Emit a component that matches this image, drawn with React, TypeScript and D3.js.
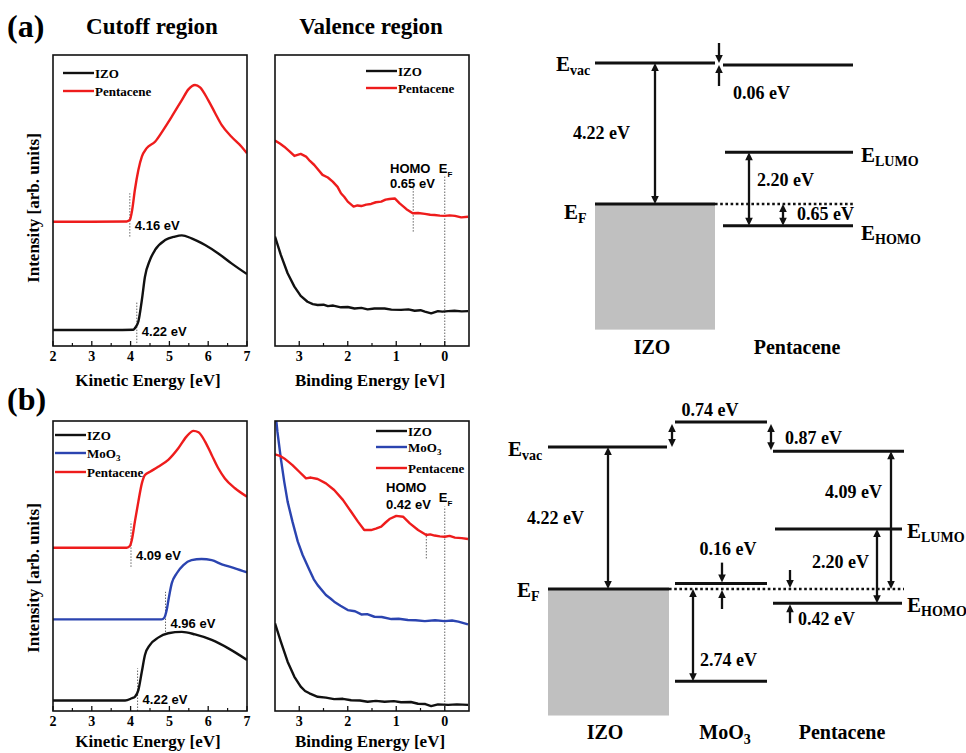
import React from 'react';
import * as d3 from 'd3';

type Pt = [number, number];

const SERIF = '"Liberation Serif", "Times New Roman", serif';
const SANS = '"Liberation Sans", Arial, sans-serif';
const RED = '#ee1c1c';
const BLUE = '#2b44b0';

// ---- (a) secondary electron cutoff, kinetic energy [eV] vs intensity (arb.)
const cutA_izo: Pt[] = [
  [2.0, 5.5], [3.5, 5.5], [4.07, 5.6], [4.11, 6.1], [4.2, 8.4], [4.29, 15.8], [4.37, 23.8],
  [4.5, 29.6], [4.63, 33.0], [4.89, 36.4], [5.14, 37.6], [5.32, 38.0], [5.57, 37.0],
  [5.92, 34.7], [6.26, 31.8], [6.6, 28.4], [7.0, 24.7],
];
const cutA_pen: Pt[] = [
  [2.0, 42.7], [3.0, 42.7], [3.9, 42.8], [3.98, 43.3], [4.04, 46.7], [4.11, 53.6], [4.2, 60.5],
  [4.29, 65.1], [4.41, 67.9], [4.63, 70.2], [4.84, 74.2], [5.06, 78.8], [5.32, 84.5],
  [5.49, 88.2], [5.66, 89.7], [5.79, 88.9], [6.0, 84.5], [6.18, 80.0], [6.35, 75.9],
  [6.6, 71.9], [6.86, 68.5], [7.0, 66.2],
];
// ---- (a) valence region, binding energy [eV]
const valA_izo: Pt[] = [
  [3.5, 37.6], [3.38, 31.3], [3.24, 25.0], [3.1, 20.4], [2.97, 17.2], [2.83, 15.2], [2.72, 14.4],
  [2.62, 14.1], [2.5, 14.2], [2.41, 13.7], [2.3, 13.9], [2.14, 13.3], [2.0, 13.4], [1.86, 12.9],
  [1.72, 13.1], [1.59, 12.6], [1.45, 12.9], [1.24, 12.9], [1.1, 12.5], [0.9, 12.4], [0.75, 12.6],
  [0.62, 12.1], [0.5, 12.3], [0.41, 11.8], [0.28, 11.2], [0.14, 12.0], [0.05, 11.8],
  [-0.07, 12.0], [-0.2, 12.1], [-0.35, 11.9], [-0.48, 12.0],
];
const valA_pen: Pt[] = [
  [3.5, 70.6], [3.4, 69.6], [3.31, 68.5], [3.2, 66.9], [3.1, 65.3], [2.97, 66.0], [2.86, 65.1],
  [2.78, 63.6], [2.69, 62.2], [2.6, 60.4], [2.52, 58.8], [2.41, 57.9], [2.31, 56.5],
  [2.21, 54.7], [2.14, 52.5], [2.07, 51.2], [2.0, 49.6], [1.88, 47.9], [1.8, 48.3], [1.72, 48.1],
  [1.62, 48.6], [1.52, 48.8], [1.42, 49.4], [1.31, 49.6], [1.22, 50.3], [1.14, 50.5],
  [1.03, 50.7], [0.93, 49.0], [0.85, 47.9], [0.79, 47.0], [0.66, 45.6], [0.55, 45.7],
  [0.41, 45.4], [0.3, 45.1], [0.21, 45.0], [0.1, 44.8], [0.0, 44.7], [-0.1, 44.9],
  [-0.21, 44.7], [-0.34, 44.2], [-0.48, 44.4],
];
const cutA_markers = [
  { e: 3.98, lo: 37.6, hi: 52.5, label: '4.16 eV' },
  { e: 4.16, lo: 1.0, hi: 15.4, label: '4.22 eV' },
];
const valA_homo = { e: 0.65, lo: 39.3, hi: 54.2, label: '0.65 eV' };
const valA_ef = { e: 0, lo: 0, hi: 58.8 };

// ---- (b) cutoff
const cutB_izo: Pt[] = [
  [2.0, 3.6], [3.86, 3.6], [4.03, 4.4], [4.11, 4.9], [4.2, 7.2], [4.29, 13.6], [4.37, 19.3],
  [4.5, 22.8], [4.71, 25.3], [4.97, 26.8], [5.32, 27.3], [5.66, 26.4], [6.09, 24.5],
  [6.52, 21.6], [7.0, 17.6],
];
const cutB_moo3: Pt[] = [
  [2.0, 31.6], [4.8, 31.6], [4.87, 32.2], [4.93, 34.8], [4.99, 39.4], [5.06, 44.0], [5.19, 47.5],
  [5.36, 50.3], [5.57, 52.0], [5.83, 52.4], [6.09, 52.0], [6.35, 50.6], [6.69, 49.2], [7.0, 47.8],
];
const cutB_pen: Pt[] = [
  [2.0, 56.3], [3.9, 56.3], [3.98, 56.9], [4.04, 59.5], [4.11, 65.3], [4.2, 72.2], [4.29, 78.5],
  [4.37, 81.4], [4.5, 82.5], [4.71, 84.2], [4.97, 86.6], [5.23, 90.6], [5.44, 94.6],
  [5.62, 96.6], [5.75, 96.1], [5.92, 92.9], [6.09, 88.3], [6.26, 83.7], [6.43, 80.2],
  [6.69, 76.8], [7.0, 73.9],
];
// ---- (b) valence
const valB_izo: Pt[] = [
  [3.5, 30.2], [3.38, 23.9], [3.24, 17.0], [3.1, 11.8], [2.97, 8.4], [2.88, 6.9], [2.79, 6.1],
  [2.62, 4.9], [2.45, 4.6], [2.28, 4.1], [2.1, 4.2], [1.93, 3.7], [1.75, 3.6], [1.59, 3.2],
  [1.42, 3.5], [1.24, 3.2], [1.05, 3.4], [0.9, 3.0], [0.7, 3.1], [0.55, 2.5], [0.4, 2.4],
  [0.28, 1.7], [0.14, 2.3], [-0.07, 2.1], [-0.25, 2.3], [-0.48, 2.1],
];
const valB_moo3: Pt[] = [
  [3.5, 104.4], [3.45, 96.3], [3.38, 87.1], [3.31, 79.1], [3.24, 72.2], [3.14, 65.3],
  [3.03, 58.4], [2.93, 53.8], [2.79, 48.6], [2.7, 45.4], [2.62, 43.4], [2.45, 40.0],
  [2.35, 38.7], [2.28, 37.7], [2.15, 36.3], [2.0, 34.8], [1.85, 34.4], [1.72, 33.3],
  [1.6, 33.4], [1.45, 32.5], [1.3, 32.4], [1.1, 31.7], [0.95, 31.8], [0.76, 31.4],
  [0.6, 31.3], [0.41, 31.0], [0.2, 31.3], [0.0, 31.0], [-0.15, 31.2], [-0.28, 30.8],
  [-0.48, 29.9],
];
const valB_pen: Pt[] = [
  [3.5, 88.5], [3.4, 88.0], [3.31, 87.1], [3.22, 85.9], [3.14, 84.8], [3.0, 82.5],
  [2.86, 80.2], [2.76, 80.5], [2.62, 80.0], [2.45, 78.5], [2.28, 76.2], [2.1, 72.8],
  [1.93, 68.7], [1.79, 65.3], [1.66, 62.4], [1.52, 62.4], [1.42, 62.9], [1.31, 63.6],
  [1.22, 65.0], [1.14, 66.2], [1.0, 67.3], [0.86, 67.0], [0.72, 64.7], [0.55, 62.4],
  [0.38, 60.7], [0.3, 60.9], [0.21, 60.5], [0.1, 60.2], [0.0, 60.1], [-0.1, 60.4],
  [-0.21, 59.8], [-0.35, 59.6], [-0.48, 59.3],
];
const cutB_markers = [
  { e: 4.01, lo: 49.7, hi: 65.3, label: '4.09 eV' },
  { e: 4.9, lo: 26.2, hi: 41.1, label: '4.96 eV' },
  { e: 4.18, lo: 0, hi: 14.7, label: '4.22 eV' },
];
const valB_homo = { e: 0.38, lo: 52.6, hi: 61.3, label: '0.42 eV' };
const valB_ef = { e: 0, lo: 0, hi: 70.5 };

const kineticTicks = [2, 3, 4, 5, 6, 7];
const kineticMinor = [2.5, 3.5, 4.5, 5.5, 6.5];
const bindingTicks = [3, 2, 1, 0];
const bindingMinor = [2.5, 1.5, 0.5];

// ---- energy level diagrams (eV, relative to E_F)
const A_IZO_VAC = 4.22;
const A_PEN_VAC = 4.16;
const A_PEN_LUMO = 1.55;
const A_PEN_HOMO = -0.65;
const B_IZO_VAC = 4.22;
const B_MOO3_VAC = 4.96;
const B_MOO3_UP = 0.16;
const B_MOO3_LOW = -2.74;
const B_PEN_VAC = 4.09;
const B_PEN_LUMO = 1.78;
const B_PEN_HOMO = -0.42;
const IZO_BAND_BOTTOM = -3.76;

type Series = { name: string; sub?: string; color: string; data: Pt[] };

function Panel(props: {
  x: number; y: number; w: number; h: number;
  domain: [number, number]; majors: number[]; minors: number[];
  series: Series[]; curve: d3.CurveFactory;
  legendX: number; legendYs: number[];
  xTitle: string; titleY: number;
  children?: (sx: d3.ScaleLinear<number, number>, sy: d3.ScaleLinear<number, number>) => React.ReactNode;
}) {
  const { x, y, w, h, domain, majors, minors, series, curve, legendX, legendYs, xTitle, titleY } = props;
  const sx = d3.scaleLinear().domain(domain).range([x, x + w]);
  const sy = d3.scaleLinear().domain([0, 100]).range([y + h, y]);
  const line = d3.line<Pt>().x(d => sx(d[0])).y(d => sy(d[1])).curve(curve);
  const clipId = `clip-${x}-${y}`;
  return (
    <g>
      <defs>
        <clipPath id={clipId}><rect x={x} y={y} width={w} height={h} /></clipPath>
      </defs>
      {props.children && props.children(sx, sy)}
      <g clipPath={`url(#${clipId})`}>
        {series.map(s => (
          <path key={s.name} d={line(s.data) || ''} fill="none" stroke={s.color}
            strokeWidth={2.4} strokeLinejoin="round" />
        ))}
      </g>
      <rect x={x} y={y} width={w} height={h} fill="none" stroke="#111" strokeWidth={1.6} />
      {majors.map(t => (
        <g key={'M' + t}>
          <line x1={sx(t)} x2={sx(t)} y1={y + h} y2={y + h - 5} stroke="#111" strokeWidth={1.3} />
          <text x={sx(t)} y={y + h + 15} textAnchor="middle" fontFamily={SERIF} fontWeight="bold" fontSize={14}>{t}</text>
        </g>
      ))}
      {minors.map(t => (
        <line key={'m' + t} x1={sx(t)} x2={sx(t)} y1={y + h} y2={y + h - 3} stroke="#111" strokeWidth={1.2} />
      ))}
      {series.map((s, i) => (
        <g key={'lg' + s.name}>
          <line x1={legendX} x2={legendX + 31} y1={legendYs[i]} y2={legendYs[i]} stroke={s.color} strokeWidth={2.4} />
          <text x={legendX + 32} y={legendYs[i] + 4.5} fontFamily={SERIF} fontWeight="bold" fontSize={13}>
            {s.name}
            {s.sub && <tspan dy={3} fontSize={9}>{s.sub}</tspan>}
          </text>
        </g>
      ))}
      <text x={x + w / 2 - 2} y={titleY} textAnchor="middle" fontFamily={SERIF} fontWeight="bold" fontSize={17}>{xTitle}</text>
    </g>
  );
}

function dotted(x: number, y1: number, y2: number, key: string) {
  return <line key={key} x1={x} x2={x} y1={y1} y2={y2} stroke="#666" strokeWidth={1} strokeDasharray="1.5,1.5" />;
}

function cutoffMarkers(markers: { e: number; lo: number; hi: number; label: string }[]) {
  return (sx: d3.ScaleLinear<number, number>, sy: d3.ScaleLinear<number, number>) => (
    <g>
      {markers.map(m => (
        <g key={m.label + m.e}>
          {dotted(sx(m.e), sy(m.lo), sy(m.hi), 'd')}
          <text x={sx(m.e) + 5} y={sy(m.lo) - 7} fontFamily={SANS} fontWeight="bold" fontSize={13}>{m.label}</text>
        </g>
      ))}
    </g>
  );
}

function valenceMarkers(homo: { e: number; lo: number; hi: number; label: string }, ef: { e: number; lo: number; hi: number },
  lblX: number, homoBase: number, valBase: number, efBase: number) {
  return (sx: d3.ScaleLinear<number, number>, sy: d3.ScaleLinear<number, number>) => (
    <g fontFamily={SANS} fontWeight="bold" fontSize={13}>
      {dotted(sx(homo.e), sy(homo.lo), sy(homo.hi), 'h')}
      {dotted(sx(ef.e), sy(ef.lo), sy(ef.hi), 'f')}
      <text x={lblX} y={homoBase}>HOMO</text>
      <text x={lblX} y={valBase}>{homo.label}</text>
      <text x={sx(ef.e) - 6} y={efBase}>E<tspan dy={4} fontSize={8}>F</tspan></text>
    </g>
  );
}

function Arrow({ x, from, to, both }: { x: number; from: number; to: number; both?: boolean }) {
  const dir = Math.sign(to - from);
  const L = 8, hw = 3.8;
  const head = (tip: number, d: number) =>
    `M${x},${tip} L${x - hw},${tip - d * L} L${x + hw},${tip - d * L} Z`;
  const s = both ? from + dir * (L - 1) : from;
  const e = to - dir * (L - 1);
  return (
    <g>
      <line x1={x} x2={x} y1={s} y2={e} stroke="#111" strokeWidth={2.3} />
      <path d={head(to, dir)} fill="#111" />
      {both && <path d={head(from, -dir)} fill="#111" />}
    </g>
  );
}

function Level({ x1, x2, y, dashed }: { x1: number; x2: number; y: number; dashed?: boolean }) {
  return <line x1={x1} x2={x2} y1={y} y2={y} stroke="#111" strokeWidth={dashed ? 2.4 : 3}
    strokeDasharray={dashed ? '2.6,2.6' : undefined} />;
}

function ELabel({ x, y, sub }: { x: number; y: number; sub: string }) {
  return (
    <text x={x} y={y} fontFamily={SERIF} fontWeight="bold" fontSize={21}>
      E<tspan dy={4} fontSize={14}>{sub}</tspan>
    </text>
  );
}

function DiagramA() {
  const y = d3.scaleLinear().domain([0, A_IZO_VAC]).range([204, 63]);
  const t = { fontFamily: SERIF, fontWeight: 'bold' as const, fontSize: 18 };
  return (
    <g>
      <rect x={595} y={y(0)} width={120} height={y(IZO_BAND_BOTTOM) - y(0)} fill="#c0c0c0" />
      <Level x1={595} x2={715} y={y(A_IZO_VAC)} />
      <Level x1={595} x2={715} y={y(0)} />
      <Level x1={715} x2={853} y={y(0)} dashed />
      <Level x1={723} x2={853} y={y(A_PEN_VAC)} />
      <Level x1={725} x2={853} y={y(A_PEN_LUMO)} />
      <Level x1={723} x2={853} y={y(A_PEN_HOMO)} />
      <Arrow x={655} from={y(A_IZO_VAC)} to={y(0)} both />
      <Arrow x={719} from={y(A_IZO_VAC) - 20} to={y(A_IZO_VAC)} />
      <Arrow x={719} from={y(A_PEN_VAC) + 21} to={y(A_PEN_VAC)} />
      <Arrow x={749} from={y(A_PEN_LUMO)} to={y(A_PEN_HOMO)} both />
      <Arrow x={783} from={y(0)} to={y(A_PEN_HOMO)} both />
      <ELabel x={556} y={71} sub="vac" />
      <ELabel x={564} y={219} sub="F" />
      <ELabel x={861} y={162} sub="LUMO" />
      <ELabel x={861} y={240} sub="HOMO" />
      <text x={573} y={139} {...t}>4.22 eV</text>
      <text x={733} y={99} {...t}>0.06 eV</text>
      <text x={757} y={186} {...t}>2.20 eV</text>
      <text x={797} y={220} {...t}>0.65 eV</text>
      <text x={652} y={354} textAnchor="middle" {...t} fontSize={20}>IZO</text>
      <text x={797} y={354} textAnchor="middle" {...t} fontSize={20}>Pentacene</text>
    </g>
  );
}

function DiagramB() {
  const y = d3.scaleLinear().domain([0, B_IZO_VAC]).range([589, 447]);
  const t = { fontFamily: SERIF, fontWeight: 'bold' as const, fontSize: 18 };
  return (
    <g>
      <rect x={548} y={y(0)} width={121} height={y(IZO_BAND_BOTTOM) - y(0)} fill="#c0c0c0" />
      <Level x1={548} x2={667} y={y(B_IZO_VAC)} />
      <Level x1={548} x2={669} y={y(0)} />
      <Level x1={669} x2={904} y={y(0)} dashed />
      <Level x1={675} x2={767} y={y(B_MOO3_VAC)} />
      <Level x1={675} x2={767} y={y(B_MOO3_UP)} />
      <Level x1={675} x2={767} y={y(B_MOO3_LOW)} />
      <Level x1={773} x2={904} y={y(B_PEN_VAC)} />
      <Level x1={775} x2={902} y={y(B_PEN_LUMO)} />
      <Level x1={773} x2={902} y={y(B_PEN_HOMO)} />
      <Arrow x={608} from={y(B_IZO_VAC)} to={y(0)} both />
      <Arrow x={672} from={y(B_MOO3_VAC) + 2} to={y(B_IZO_VAC)} both />
      <Arrow x={771} from={y(B_MOO3_VAC) + 2} to={y(B_PEN_VAC) - 1} both />
      <Arrow x={693} from={y(0)} to={y(B_MOO3_LOW)} both />
      <Arrow x={722} from={y(B_MOO3_UP) - 21} to={y(B_MOO3_UP) - 1} />
      <Arrow x={722} from={y(0) + 20} to={y(0) + 1} />
      <Arrow x={790} from={y(0) - 19} to={y(0) - 1} />
      <Arrow x={790} from={y(B_PEN_HOMO) + 20} to={y(B_PEN_HOMO) + 1} />
      <Arrow x={877} from={y(B_PEN_LUMO)} to={y(B_PEN_HOMO)} both />
      <Arrow x={891} from={y(B_PEN_VAC)} to={y(0)} both />
      <ELabel x={508} y={456} sub="vac" />
      <ELabel x={517} y={597} sub="F" />
      <ELabel x={907} y={538} sub="LUMO" />
      <ELabel x={907} y={612} sub="HOMO" />
      <text x={710} y={416} textAnchor="middle" {...t}>0.74 eV</text>
      <text x={785} y={444} {...t}>0.87 eV</text>
      <text x={527} y={524} {...t}>4.22 eV</text>
      <text x={825} y={498} {...t}>4.09 eV</text>
      <text x={728} y={555} textAnchor="middle" {...t}>0.16 eV</text>
      <text x={812} y={568} {...t}>2.20 eV</text>
      <text x={798} y={625} {...t}>0.42 eV</text>
      <text x={700} y={666} {...t}>2.74 eV</text>
      <text x={605} y={739} textAnchor="middle" {...t} fontSize={20}>IZO</text>
      <text x={725} y={739} textAnchor="middle" {...t} fontSize={20}>MoO<tspan dy={5} fontSize={14}>3</tspan></text>
      <text x={842} y={739} textAnchor="middle" {...t} fontSize={20}>Pentacene</text>
    </g>
  );
}

export default function App() {
  const title = { fontFamily: SERIF, fontWeight: 'bold' as const };
  return (
    <div style={{ position: 'absolute', left: 0, top: 0 }}>
      <svg width={966} height={753} style={{ display: 'block', background: '#fff' }}>
        <text x={7} y={37} {...title} fontSize={32}>(a)</text>
        <text x={152} y={34} textAnchor="middle" {...title} fontSize={23}>Cutoff region</text>
        <text x={371} y={34} textAnchor="middle" {...title} fontSize={23}>Valence region</text>
        <text x={7} y={410} {...title} fontSize={32}>(b)</text>
        <text transform="translate(39,208) rotate(-90)" textAnchor="middle" {...title} fontSize={17}>Intensity [arb. units]</text>
        <text transform="translate(39,578) rotate(-90)" textAnchor="middle" {...title} fontSize={17}>Intensity [arb. units]</text>

        <Panel x={53} y={55} w={194} h={291} domain={[2, 7]} majors={kineticTicks} minors={kineticMinor}
          series={[{ name: 'IZO', color: '#111', data: cutA_izo }, { name: 'Pentacene', color: RED, data: cutA_pen }]}
          curve={d3.curveMonotoneX} legendX={63} legendYs={[73, 91]} xTitle="Kinetic Energy [eV]" titleY={386}>
          {cutoffMarkers(cutA_markers)}
        </Panel>
        <Panel x={275} y={55} w={194} h={291} domain={[3.5, -0.5]} majors={bindingTicks} minors={bindingMinor}
          series={[{ name: 'IZO', color: '#111', data: valA_izo }, { name: 'Pentacene', color: RED, data: valA_pen }]}
          curve={d3.curveLinear} legendX={366} legendYs={[71, 88]} xTitle="Binding Energy [eV]" titleY={386}>
          {valenceMarkers(valA_homo, valA_ef, 390, 173, 188, 173)}
        </Panel>
        <Panel x={53} y={421} w={194} h={290} domain={[2, 7]} majors={kineticTicks} minors={kineticMinor}
          series={[{ name: 'IZO', color: '#111', data: cutB_izo }, { name: 'MoO', sub: '3', color: BLUE, data: cutB_moo3 },
            { name: 'Pentacene', color: RED, data: cutB_pen }]}
          curve={d3.curveMonotoneX} legendX={55} legendYs={[435, 453, 472]} xTitle="Kinetic Energy [eV]" titleY={747}>
          {cutoffMarkers(cutB_markers)}
        </Panel>
        <Panel x={275} y={421} w={194} h={290} domain={[3.5, -0.5]} majors={bindingTicks} minors={bindingMinor}
          series={[{ name: 'IZO', color: '#111', data: valB_izo }, { name: 'MoO', sub: '3', color: BLUE, data: valB_moo3 },
            { name: 'Pentacene', color: RED, data: valB_pen }]}
          curve={d3.curveLinear} legendX={376} legendYs={[431, 447, 468]} xTitle="Binding Energy [eV]" titleY={747}>
          {valenceMarkers(valB_homo, valB_ef, 386, 492, 509, 502)}
        </Panel>

        <DiagramA />
        <DiagramB />
      </svg>
    </div>
  );
}
